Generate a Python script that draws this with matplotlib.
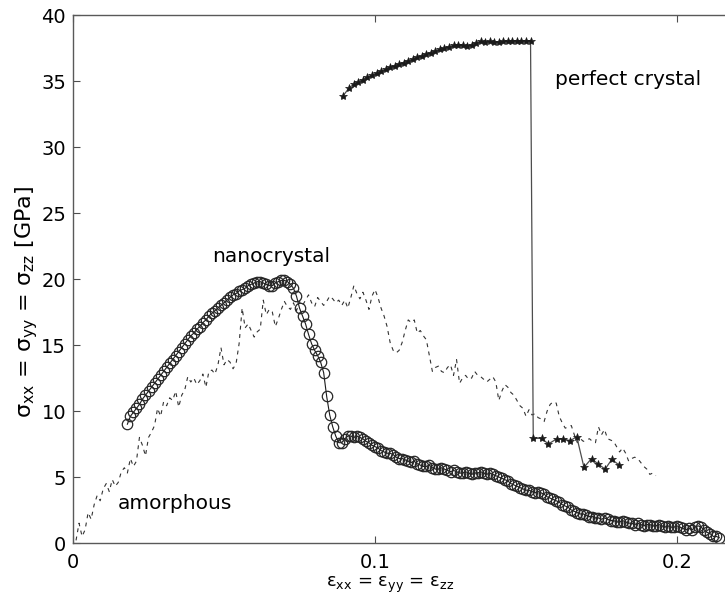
import numpy as np
import matplotlib
matplotlib.use('Agg')
import matplotlib.pyplot as plt

plt.rcParams['font.family'] = ['DejaVu Sans']
plt.rcParams['mathtext.fontset'] = 'custom'
plt.rcParams['mathtext.rm'] = 'DejaVu Sans'
plt.rcParams['mathtext.it'] = 'DejaVu Sans'

# nanocrystal: strain grid 0.018 ... 0.214 (step 0.001)
nano_strain = np.round(np.arange(0.018, 0.2145, 0.001), 3)
nano_stress = [
    9.0, 9.6, 9.9, 10.2, 10.5, 10.9, 11.2, 11.5, 11.8, 12.1,
    12.4, 12.7, 13.0, 13.3, 13.6, 13.9, 14.2, 14.5, 14.8, 15.1,
    15.4, 15.7, 15.9, 16.2, 16.4, 16.7, 16.9, 17.2, 17.4, 17.6,
    17.8, 18.0, 18.2, 18.4, 18.6, 18.8, 18.9, 19.1, 19.2, 19.3,
    19.5, 19.6, 19.7, 19.8, 19.8, 19.7, 19.6, 19.5, 19.5, 19.7,
    19.8, 19.9, 19.9, 19.8, 19.6, 19.3, 18.7, 17.8, 17.2, 16.6,
    15.8, 15.1, 14.6, 14.2, 13.7, 12.9, 11.1, 9.7, 8.8, 8.1,
    7.6, 7.6, 7.9, 8.1, 8.1, 8.0, 8.1, 8.0, 7.9, 7.7,
    7.6, 7.4, 7.3, 7.2, 7.0, 6.9, 6.8, 6.8, 6.7, 6.5,
    6.4, 6.4, 6.3, 6.2, 6.1, 6.2, 6.0, 5.9, 5.8, 5.8,
    5.9, 5.7, 5.6, 5.6, 5.7, 5.6, 5.5, 5.4, 5.5, 5.4,
    5.3, 5.3, 5.4, 5.3, 5.2, 5.3, 5.3, 5.4, 5.3, 5.2,
    5.3, 5.2, 5.1, 5.0, 4.9, 4.8, 4.7, 4.5, 4.4, 4.3,
    4.2, 4.1, 4.0, 4.0, 3.9, 3.8, 3.9, 3.8, 3.7, 3.5,
    3.4, 3.3, 3.2, 3.1, 2.9, 2.8, 2.7, 2.5, 2.4, 2.3,
    2.2, 2.2, 2.1, 2.0, 2.0, 1.9, 1.9, 1.8, 1.9, 1.8,
    1.7, 1.7, 1.6, 1.6, 1.7, 1.6, 1.5, 1.5, 1.4, 1.5,
    1.4, 1.3, 1.4, 1.4, 1.3, 1.3, 1.4, 1.3, 1.2, 1.3,
    1.2, 1.2, 1.3, 1.2, 1.1, 1.0, 1.1, 1.0, 1.2, 1.3,
    1.2, 1.0, 0.8, 0.7, 0.5, 0.5, 0.4,
]

# amorphous: strain grid 0.001 ... 0.193 (step 0.001)
amor_strain = np.round(np.arange(0.001, 0.1935, 0.001), 3)
amor_stress = [
    0.2, 1.5, 0.5, 1.0, 2.3, 1.8, 2.9, 3.6, 3.2, 4.1,
    4.5, 3.9, 4.8, 4.3, 4.6, 5.4, 5.7, 5.3, 6.4, 5.8,
    6.2, 8.0, 7.4, 6.6, 8.0, 8.4, 8.9, 10.2, 9.6, 10.7,
    10.4, 11.0, 10.8, 11.5, 10.3, 11.2, 11.6, 12.6, 12.2, 12.5,
    12.0, 12.3, 12.8, 11.8, 13.0, 13.1, 12.8, 13.5, 14.8, 13.5,
    13.9, 13.7, 13.2, 13.6, 15.1, 17.8, 16.3, 16.6, 16.1, 15.6,
    16.0, 16.2, 18.4, 17.3, 17.7, 17.5, 16.4, 17.0, 17.7, 18.3,
    17.9, 17.7, 18.2, 17.6, 18.3, 18.0, 18.4, 18.8, 18.2, 17.9,
    18.6, 18.3, 18.0, 18.3, 18.7, 18.5, 18.2, 18.4, 18.0, 18.4,
    17.8, 18.6, 19.5, 18.9, 18.5, 19.0, 18.4, 17.7, 18.7, 19.2,
    18.6, 17.8, 17.2, 16.4, 15.2, 14.6, 14.4, 14.6, 15.2, 16.1,
    16.9, 16.7, 16.9, 15.9, 16.1, 15.7, 15.4, 14.2, 13.0, 13.3,
    13.4, 13.0, 12.9, 13.3, 13.5, 12.7, 13.9, 12.1, 12.5, 12.7,
    12.4, 12.5, 13.0, 12.7, 12.6, 12.4, 12.2, 12.4, 12.6, 12.2,
    10.8, 11.5, 12.0, 11.8, 11.4, 11.2, 10.8, 10.4, 10.2, 9.6,
    10.1, 9.7, 9.8, 9.5, 9.4, 9.2, 10.0, 10.5, 10.7, 10.6,
    9.6, 9.1, 8.7, 8.8, 8.9, 8.2, 7.6, 7.9, 7.7, 7.8,
    7.9, 7.7, 7.6, 8.8, 8.2, 8.6, 7.9, 7.8, 7.7, 7.3,
    6.9, 7.2, 6.8, 6.2, 6.4, 6.5, 6.4, 6.1, 5.8, 5.6,
    5.2, 5.3, 5.1,
]

# perfect crystal
perf_strain = [
    0.0895, 0.0915, 0.093, 0.0945, 0.096, 0.0975, 0.099, 0.1005, 0.102, 0.1035,
    0.105, 0.1065, 0.108, 0.1095, 0.111, 0.1125, 0.114, 0.1155, 0.117, 0.1185,
    0.12, 0.1215, 0.123, 0.1245, 0.126, 0.1275, 0.129, 0.1305, 0.132, 0.1335,
    0.135, 0.1365, 0.138, 0.1395, 0.141, 0.1425, 0.144, 0.1455, 0.147, 0.1485,
    0.150, 0.1515,
    0.1524, 0.1552, 0.1574, 0.1601, 0.1624, 0.1646, 0.1668, 0.1692, 0.1717, 0.1739,
    0.1762, 0.1784, 0.1809,
]
perf_stress = [
    33.9, 34.5, 34.75, 34.95, 35.1, 35.3, 35.45, 35.6, 35.75, 35.9,
    36.05, 36.15, 36.3, 36.4, 36.55, 36.65, 36.8, 36.9, 37.05, 37.15,
    37.3, 37.4, 37.5, 37.6, 37.7, 37.75, 37.7, 37.65, 37.75, 37.9,
    38.0, 37.95, 38.0, 37.95, 37.95, 38.0, 38.0, 38.05, 38.05, 38.05,
    38.05, 38.05,
    7.93, 7.93, 7.5, 7.88, 7.88, 7.75, 8.05, 5.73, 6.4, 5.98,
    5.6, 6.33, 5.9,
]

fig = plt.figure(figsize=(7.25, 6.01), dpi=100)
ax = fig.add_axes([0.1007, 0.0965, 0.9164, 0.8785])

# amorphous (dashed)
ax.plot(amor_strain, amor_stress, color='0.2', lw=0.8, dashes=(3.5, 4))
# nanocrystal (circles)
ax.plot(nano_strain, nano_stress, color='0.1', lw=0.8, marker='o', ms=7.5,
        mfc='none', mec='0.15', mew=0.9)
# perfect crystal (stars)
ax.plot(perf_strain, perf_stress, color='0.3', lw=0.9, marker='*', ms=6,
        mfc='0.1', mec='0.1', mew=0.5)

ax.text(0.1596, 35.1, 'perfect crystal', fontsize=14.5, va='center', ha='left')
ax.text(0.046, 21.7, 'nanocrystal', fontsize=14.5, va='center', ha='left')
ax.text(0.0149, 3.0, 'amorphous', fontsize=14.5, va='center', ha='left')

ax.set_xlim(0, 0.22)
ax.set_ylim(0, 40)
ax.set_xticks([0, 0.1, 0.2])
ax.set_xticklabels(['0', '0.1', '0.2'])
ax.set_yticks(range(0, 41, 5))
ax.tick_params(direction='in', top=True, right=True, length=5, width=0.8,
               labelsize=14, color='0.3')
ax.tick_params(axis='x', pad=7)
ax.tick_params(axis='y', pad=5)
for s in ax.spines.values():
    s.set_color('0.35')
    s.set_linewidth(1.0)

ax.set_xlabel(r'$\mathregular{ε_{xx}}$ = $\mathregular{ε_{yy}}$ = $\mathregular{ε_{zz}}$',
              fontsize=13)
ax.set_ylabel(r'$\mathregular{σ_{xx}}$ = $\mathregular{σ_{yy}}$ = $\mathregular{σ_{zz}}$ [GPa]',
              fontsize=16)
ax.xaxis.set_label_coords((390 - 73) / (0.9164 * 725), -0.06)
ax.yaxis.set_label_coords(-0.05, (543 - 302) / 528)

fig.savefig('out.png', dpi=100)
